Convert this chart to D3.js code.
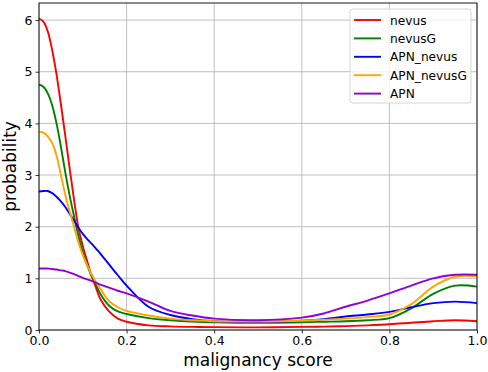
<!DOCTYPE html>
<html>
<head>
<meta charset="utf-8">
<script src="https://cdn.jsdelivr.net/npm/d3@7"></script>
<style>
  body { margin: 0; background: #fff; }
  svg { display: block; font-family: "DejaVu Sans", sans-serif; }
</style>
</head>
<body>
<svg id="chart" width="488" height="372"></svg>
<script>
// malignancy score grid and density values
var scores = [0, 0.01, 0.02, 0.03, 0.04, 0.05, 0.06, 0.07, 0.08, 0.09, 0.1, 0.11, 0.12, 0.13, 0.14, 0.16, 0.18, 0.2, 0.25, 0.3, 0.35, 0.4, 0.5, 0.6, 0.65, 0.7, 0.75, 0.8, 0.85, 0.9, 0.95, 1.0];

var nevus     = [6.03, 5.97, 5.78, 5.42, 4.95, 4.37, 3.76, 3.13, 2.52, 1.98, 1.62, 1.33, 1.05, 0.82, 0.6, 0.36, 0.22, 0.16, 0.09, 0.07, 0.06, 0.055, 0.05, 0.06, 0.065, 0.075, 0.09, 0.11, 0.14, 0.17, 0.19, 0.17];
var nevusG    = [4.75, 4.71, 4.58, 4.35, 4.0, 3.55, 3.05, 2.6, 2.2, 1.82, 1.5, 1.25, 1.05, 0.88, 0.7, 0.47, 0.36, 0.31, 0.23, 0.19, 0.165, 0.15, 0.14, 0.15, 0.16, 0.17, 0.19, 0.23, 0.42, 0.7, 0.86, 0.84];
var apnNevus  = [2.68, 2.69, 2.69, 2.65, 2.58, 2.49, 2.38, 2.25, 2.12, 1.98, 1.86, 1.76, 1.67, 1.575, 1.48, 1.27, 1.06, 0.86, 0.45, 0.29, 0.21, 0.17, 0.16, 0.18, 0.21, 0.26, 0.3, 0.35, 0.44, 0.52, 0.55, 0.52];
var apnNevusG = [3.84, 3.82, 3.75, 3.62, 3.38, 3.0, 2.62, 2.3, 2.0, 1.7, 1.45, 1.25, 1.08, 0.93, 0.8, 0.56, 0.44, 0.37, 0.28, 0.22, 0.19, 0.17, 0.165, 0.18, 0.2, 0.22, 0.25, 0.3, 0.5, 0.84, 1.03, 1.04];
var apn       = [1.19, 1.19, 1.19, 1.18, 1.17, 1.155, 1.14, 1.11, 1.08, 1.045, 1.01, 0.98, 0.95, 0.915, 0.88, 0.82, 0.76, 0.71, 0.55, 0.37, 0.28, 0.22, 0.19, 0.24, 0.32, 0.45, 0.57, 0.71, 0.86, 1.0, 1.07, 1.07];

var seriesNames  = ["nevus", "nevusG", "APN_nevus", "APN_nevusG", "APN"];
var seriesValues = [nevus, nevusG, apnNevus, apnNevusG, apn];
var seriesColors = ["#ff0000", "#008000", "#0000ff", "#ffa500", "#9400d3"];

var xTicks = [0, 0.2, 0.4, 0.6, 0.8, 1.0];
var yTicks = [0, 1, 2, 3, 4, 5, 6];

var margin = {top: 3, right: 11, bottom: 42, left: 39};
var width = 488 - margin.left - margin.right;
var height = 372 - margin.top - margin.bottom;

var svg = d3.select("#chart");
var g = svg.append("g").attr("transform", "translate(" + margin.left + "," + margin.top + ")");

var x = d3.scaleLinear().domain([0, 1]).range([0, width]);
var y = d3.scaleLinear().domain([0, 6.33]).range([height, 0]);

// grid
g.append("g").selectAll("line").data(xTicks).enter().append("line")
  .attr("x1", function(d) { return x(d); }).attr("x2", function(d) { return x(d); })
  .attr("y1", 0).attr("y2", height)
  .attr("stroke", "#b0b0b0").attr("stroke-width", 0.8);
g.append("g").selectAll("line").data(yTicks).enter().append("line")
  .attr("x1", 0).attr("x2", width)
  .attr("y1", function(d) { return y(d); }).attr("y2", function(d) { return y(d); })
  .attr("stroke", "#b0b0b0").attr("stroke-width", 0.8);

// curves
var line = d3.line()
  .x(function(d) { return x(d[0]); })
  .y(function(d) { return y(d[1]); })
  .curve(d3.curveCatmullRom.alpha(0.5));

seriesValues.forEach(function(vals, i) {
  g.append("path")
    .datum(scores.map(function(s, j) { return [s, vals[j]]; }))
    .attr("d", line)
    .attr("fill", "none")
    .attr("stroke", seriesColors[i])
    .attr("stroke-width", 1.9);
});

// axes
var xAxis = g.append("g").attr("transform", "translate(0," + height + ")")
  .call(d3.axisBottom(x).tickValues(xTicks).tickFormat(d3.format(".1f")).tickSize(3.5).tickPadding(3));
var yAxis = g.append("g")
  .call(d3.axisLeft(y).tickValues(yTicks).tickFormat(d3.format("d")).tickSize(3.5).tickPadding(3));
[xAxis, yAxis].forEach(function(a) {
  a.select(".domain").remove();
  a.selectAll("text").attr("font-size", 12.5).attr("fill", "#000").attr("font-family", "DejaVu Sans");
  a.selectAll("line").attr("stroke", "#000").attr("stroke-width", 0.8);
});

// frame
g.append("rect").attr("x", 0).attr("y", 0).attr("width", width).attr("height", height)
  .attr("fill", "none").attr("stroke", "#000").attr("stroke-width", 0.9);

// labels
svg.append("text").attr("x", margin.left + width / 2).attr("y", 366)
  .attr("text-anchor", "middle").attr("font-size", 17).text("malignancy score");
svg.append("text").attr("transform", "translate(16," + (margin.top + height / 2) + ") rotate(-90)")
  .attr("text-anchor", "middle").attr("font-size", 17).text("probability");

// legend
var legend = svg.append("g").attr("transform", "translate(350,9)");
legend.append("rect").attr("width", 121).attr("height", 94).attr("rx", 3)
  .attr("fill", "#fff").attr("fill-opacity", 0.8).attr("stroke", "#cccccc").attr("stroke-width", 0.8);
seriesNames.forEach(function(name, i) {
  var yy = 11 + i * 18.4;
  legend.append("line").attr("x1", 4).attr("x2", 31).attr("y1", yy).attr("y2", yy)
    .attr("stroke", seriesColors[i]).attr("stroke-width", 1.9);
  legend.append("text").attr("x", 40).attr("y", yy + 4.5).attr("font-size", 12.2).text(name);
});
</script>
</body>
</html>
